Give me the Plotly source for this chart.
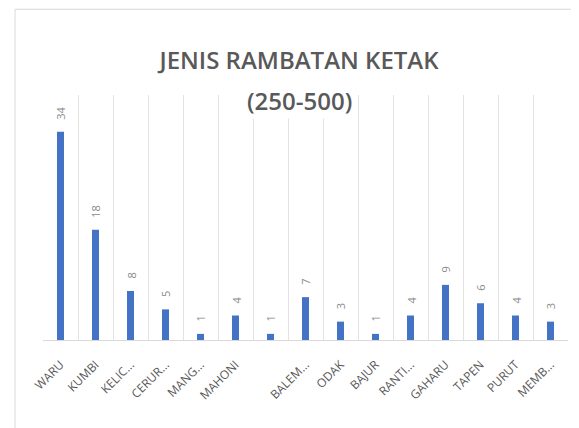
import plotly.graph_objects as go

categories = ["WARU", "KUMBI", "KELIC…", "CERUR…", "MANG…", "MAHONI", "",
              "BALEM…", "ODAK", "BAJUR", "RANTI…", "GAHARU", "TAPEN", "PURUT", "MEMB…"]
values = [34, 18, 8, 5, 1, 4, 1, 7, 3, 1, 4, 9, 6, 4, 3]
title_line1 = "JENIS RAMBATAN KETAK"
title_line2 = "(250-500)"

positions = list(range(len(categories)))
boundaries = [p - 0.5 for p in positions] + [positions[-1] + 0.5]

W, H = 579, 428
L, R, T, B = 35, 19, 87, 96

fig = go.Figure()
fig.add_trace(go.Bar(
    x=positions, y=values, width=0.2,
    marker=dict(color="#4472C4", line=dict(width=0)),
    hoverinfo="skip",
))

for p, v in zip(positions, values):
    fig.add_annotation(
        x=p, y=v, xref="x", yref="y", text=str(v), showarrow=False,
        textangle=-90, yanchor="bottom", xanchor="center", yshift=10,
        font=dict(family="Open Sans", size=11, color="#8a8a8a"),
    )

fig.add_annotation(
    x=(291 - L) / (W - L - R), y=(H - B - 93) / (H - T - B), xref="paper", yref="paper",
    text=title_line2, showarrow=False, xanchor="center", yanchor="middle",
    bgcolor="white", font=dict(family="Open Sans", size=24, color="#595959", weight=600),
)

fig.add_shape(type="rect", xref="paper", yref="paper",
              x0=-0.0533, x1=1.2, y0=-0.6, y1=1.35,
              line=dict(color="#d9d9d9", width=1), layer="below")

fig.update_layout(
    width=W, height=H,
    margin=dict(l=L, r=R, t=T, b=B, autoexpand=False),
    paper_bgcolor="white", plot_bgcolor="white",
    showlegend=False,
    title=dict(text=title_line1, x=291 / W, xanchor="center", xref="container",
               y=1 - 53 / H, yanchor="middle", yref="container", automargin=False,
               font=dict(family="Open Sans", size=24, color="#595959", weight=600)),
    xaxis=dict(
        range=[-0.5, len(categories) - 0.5], automargin=False,
        tickmode="array", tickvals=positions, ticktext=categories,
        tickangle=-45, showgrid=False, ticks="",
        showline=True, linecolor="#d9d9d9", linewidth=1,
        ticklabelstandoff=12,
        tickfont=dict(family="Open Sans", size=12, color="#595959"),
        minor=dict(tickmode="array", tickvals=boundaries, showgrid=True,
                   gridcolor="#e3e3e3", gridwidth=1, ticks=""),
        zeroline=False,
    ),
    yaxis=dict(range=[0, 40], showgrid=False, showticklabels=False, automargin=False,
               zeroline=False, showline=False, ticks=""),
)

fig.write_html("out.html")
